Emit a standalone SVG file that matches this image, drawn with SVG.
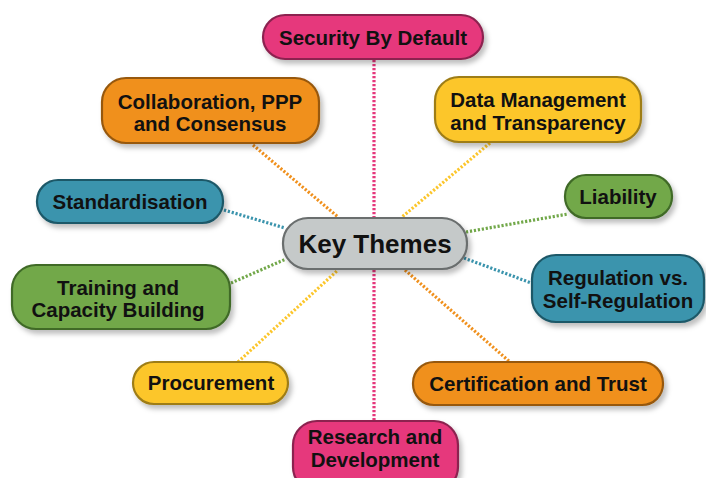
<svg xmlns="http://www.w3.org/2000/svg" width="706" height="478" viewBox="0 0 706 478">
<defs>
<filter id="sh" x="-10%" y="-20%" width="130%" height="150%">
<feDropShadow dx="3" dy="4" stdDeviation="2.5" flood-color="#000" flood-opacity="0.25"/>
</filter>
<style>
.n{stroke-width:2.2;filter:url(#sh)}
.t{font-family:"Liberation Sans",Arial,sans-serif;font-weight:bold;font-size:20.5px;fill:#111;text-anchor:middle}
.c{fill:none;stroke-width:3.2;stroke-dasharray:2.2 1.8}
.pink{fill:#e6377c;stroke:#8c2350}
.orange{fill:#f0901c;stroke:#97590f}
.yellow{fill:#fcc62b;stroke:#9e7d18}
.blue{fill:#3b94ad;stroke:#1e5868}
.green{fill:#72a84a;stroke:#3f6a28}
.gray{fill:#c5c9c9;stroke:#6a6e6e}
</style>
</defs>
<rect width="706" height="478" fill="#fff"/>
<g id="connectors">
<line class="c" stroke="#e6377c" x1="374" y1="60" x2="374" y2="218"/>
<line class="c" stroke="#e6377c" x1="374" y1="270" x2="374" y2="421"/>
<line class="c" stroke="#f0901c" x1="253" y1="145" x2="338" y2="217"/>
<line class="c" stroke="#fcc62b" x1="490" y1="143" x2="402" y2="217"/>
<line class="c" stroke="#3b94ad" x1="224" y1="210" x2="285" y2="228"/>
<line class="c" stroke="#72a84a" x1="466" y1="232" x2="568" y2="214"/>
<line class="c" stroke="#72a84a" x1="231" y1="283" x2="286" y2="259"/>
<line class="c" stroke="#3b94ad" x1="464" y1="258" x2="534" y2="284"/>
<line class="c" stroke="#fcc62b" x1="238" y1="362" x2="338" y2="270"/>
<line class="c" stroke="#f0901c" x1="405" y1="270" x2="510" y2="362"/>
</g>
<g id="security">
<rect class="n pink" x="263" y="15" width="220" height="44" rx="22"/>
<text class="t" x="373" y="45">Security By Default</text>
</g>
<g id="collaboration">
<rect class="n orange" x="102" y="78" width="217" height="65" rx="24"/>
<text class="t" x="210" y="109">Collaboration, PPP</text>
<text class="t" x="210" y="131">and Consensus</text>
</g>
<g id="datamanagement">
<rect class="n yellow" x="435" y="77" width="206" height="65" rx="24"/>
<text class="t" x="538" y="107">Data Management</text>
<text class="t" x="538" y="130">and Transparency</text>
</g>
<g id="standardisation">
<rect class="n blue" x="37" y="180" width="186" height="43" rx="21"/>
<text class="t" x="130" y="209">Standardisation</text>
</g>
<g id="liability">
<rect class="n green" x="565" y="175" width="107" height="43" rx="21"/>
<text class="t" x="618" y="204">Liability</text>
</g>
<g id="keythemes">
<rect class="n gray" x="283" y="218" width="184" height="51" rx="25"/>
<text class="t" x="375" y="253" style="font-size:26px">Key Themes</text>
</g>
<g id="training">
<rect class="n green" x="12" y="265" width="218" height="64" rx="24"/>
<text class="t" x="118" y="295">Training and</text>
<text class="t" x="118" y="317">Capacity Building</text>
</g>
<g id="regulation">
<rect class="n blue" x="532" y="255" width="172" height="67" rx="24"/>
<text class="t" x="618" y="285">Regulation vs.</text>
<text class="t" x="618" y="308">Self-Regulation</text>
</g>
<g id="procurement">
<rect class="n yellow" x="133" y="362" width="155" height="42" rx="21"/>
<text class="t" x="211" y="390">Procurement</text>
</g>
<g id="certification">
<rect class="n orange" x="413" y="362" width="250" height="43" rx="21"/>
<text class="t" x="538" y="391">Certification and Trust</text>
</g>
<g id="research">
<rect class="n pink" x="293" y="421" width="165" height="70" rx="24"/>
<text class="t" x="375" y="444">Research and</text>
<text class="t" x="375" y="467">Development</text>
</g>
</svg>
